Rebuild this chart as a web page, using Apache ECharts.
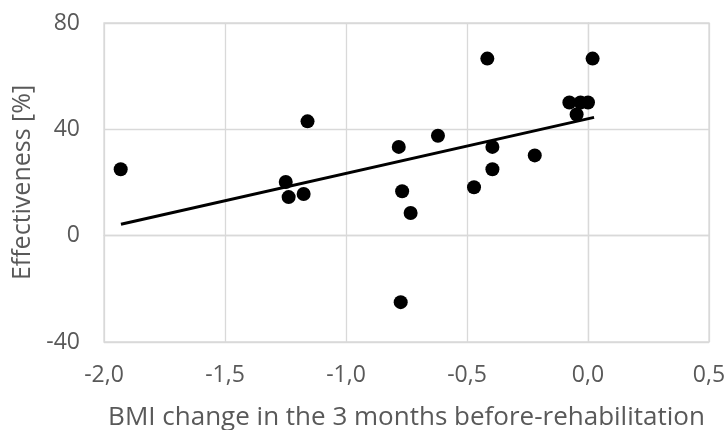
<!DOCTYPE html>
<html>
<head>
<meta charset="utf-8">
<script src="https://cdn.jsdelivr.net/npm/echarts@6/dist/echarts.min.js"></script>
<style>html,body{margin:0;padding:0;background:#fff;}#c{width:726px;height:430px;}</style>
</head>
<body>
<div id="c"></div>
<script>
var bmiChange = [-1.931,-1.249,-1.237,-1.175,-1.159,-0.782,-0.768,-0.733,-0.774,-0.620,-0.471,-0.416,-0.395,-0.395,-0.220,-0.077,-0.031,0.0,-0.047,0.019];
var effectiveness = [25.0,20.2,14.5,15.7,43.0,33.4,16.7,8.5,-25.0,37.6,18.2,66.6,33.4,25.0,30.2,50.1,50.1,50.1,45.6,66.6];
var trendX = [-1.93, 0.025];
var trendY = [4.3, 44.5];
var xTicks = [-2.0,-1.5,-1.0,-0.5,0.0,0.5];
var yTicks = [-40,0,40,80];

var pts = bmiChange.map(function(x,i){return [x, effectiveness[i]];});
var trend = trendX.map(function(x,i){return [x, trendY[i]];});
var font = '"Open Sans", sans-serif';
var chart = echarts.init(document.getElementById('c'), null, {renderer:'canvas'});
chart.setOption({
  animation:false,
  grid:{left:104,right:17,top:23,bottom:88,show:true,borderColor:'#d9d9d9',borderWidth:1.3,
    containLabel:false,outerBoundsMode:'none'},
  xAxis:{type:'value',min:xTicks[0],max:xTicks[xTicks.length-1],interval:0.5,
    name:'BMI change in the 3 months before-rehabilitation',nameLocation:'middle',nameGap:63,
    nameTextStyle:{color:'#595959',fontSize:26,fontFamily:font},
    axisLine:{show:true,lineStyle:{color:'#d9d9d9',width:1.3}},axisTick:{show:false},
    splitLine:{show:true,lineStyle:{color:'#d9d9d9',width:1.3}},
    axisLabel:{color:'#595959',fontSize:23,fontFamily:font,margin:22,
      formatter:function(v){return v.toFixed(1).replace('.',',');}}},
  yAxis:{type:'value',min:yTicks[0],max:yTicks[yTicks.length-1],interval:40,
    name:'Effectiveness [%]',nameLocation:'middle',nameGap:64,nameRotate:90,
    nameTextStyle:{color:'#595959',fontSize:25,fontFamily:font},
    axisLine:{show:true,lineStyle:{color:'#d9d9d9',width:1.3}},axisTick:{show:false},
    splitLine:{show:true,lineStyle:{color:'#d9d9d9',width:1.3}},
    axisLabel:{color:'#595959',fontSize:23,fontFamily:font,margin:24}},
  series:[
    {type:'line',data:trend,symbol:'none',lineStyle:{color:'#000',width:3},z:2},
    {type:'scatter',data:pts,symbol:'circle',symbolSize:14,itemStyle:{color:'#000',opacity:1},z:3}
  ]
});
</script>
</body>
</html>
